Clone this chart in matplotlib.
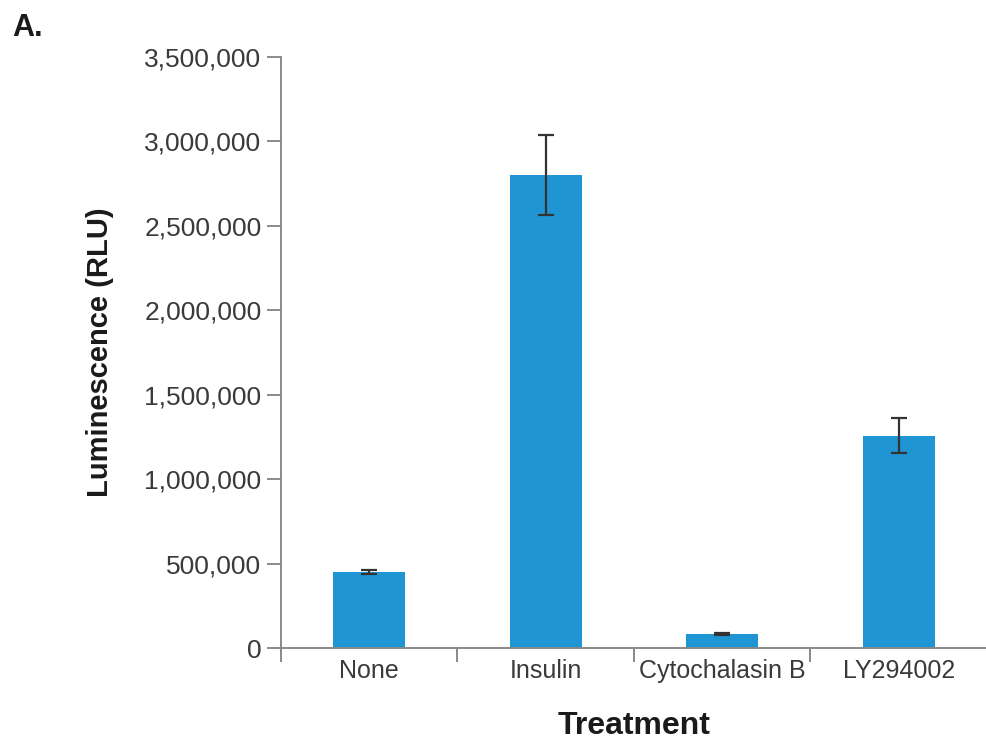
import matplotlib
matplotlib.use("Agg")
import matplotlib.pyplot as plt
from matplotlib.ticker import FuncFormatter, FixedLocator

treatments = ["None", "Insulin", "Cytochalasin B", "LY294002"]
luminescence = [450000, 2800000, 83000, 1257000]
errors = [10000, 237000, 6000, 104000]
y_ticks = [0, 500000, 1000000, 1500000, 2000000, 2500000, 3000000, 3500000]

bar_color = "#1f95d3"
axis_color = "#8a8a8a"
text_color = "#3a3a3a"

plt.rcParams["font.family"] = ["Liberation Sans", "DejaVu Sans"]

fig = plt.figure(figsize=(9.87, 7.45), dpi=100)
ax = fig.add_axes([0.2847, 0.1302, 0.7153, 0.7933])

x = range(len(treatments))
ax.bar(x, luminescence, width=0.41, color=bar_color, zorder=2)
ax.errorbar(x, luminescence, yerr=errors, fmt="none", ecolor="#333333",
            elinewidth=1.6, capsize=6, capthick=1.6, zorder=3)

ax.set_xlim(-0.5, 3.5)
ax.set_ylim(0, 3500000)

# category labels sit between boundary ticks
ax.set_xticks(list(x))
ax.set_xticklabels(treatments)
ax.xaxis.set_minor_locator(FixedLocator([-0.5, 0.5, 1.5, 2.5, 3.5]))
ax.tick_params(axis="x", which="major", length=0, pad=8,
               labelsize=18, labelcolor=text_color)
ax.tick_params(axis="x", which="minor", length=10, width=1.4,
               color=axis_color, direction="out")

ax.set_yticks(y_ticks)
ax.yaxis.set_major_formatter(FuncFormatter(lambda v, p: f"{int(v):,}"))
ax.tick_params(axis="y", length=10, width=1.4, color=axis_color,
               labelsize=19, labelcolor=text_color, pad=4)

for side in ["top", "right"]:
    ax.spines[side].set_visible(False)
for side in ["left", "bottom"]:
    ax.spines[side].set_color(axis_color)
    ax.spines[side].set_linewidth(1.4)

ax.set_ylabel("Luminescence (RLU)", fontsize=21, fontweight="bold",
              color="#1a1a1a", labelpad=22)
ax.set_xlabel("Treatment", fontsize=23, fontweight="bold",
              color="#1a1a1a", labelpad=20)

fig.text(0.012, 0.952, "A.", fontsize=22, fontweight="bold", color="#1a1a1a")

fig.savefig("out.png", dpi=100)
